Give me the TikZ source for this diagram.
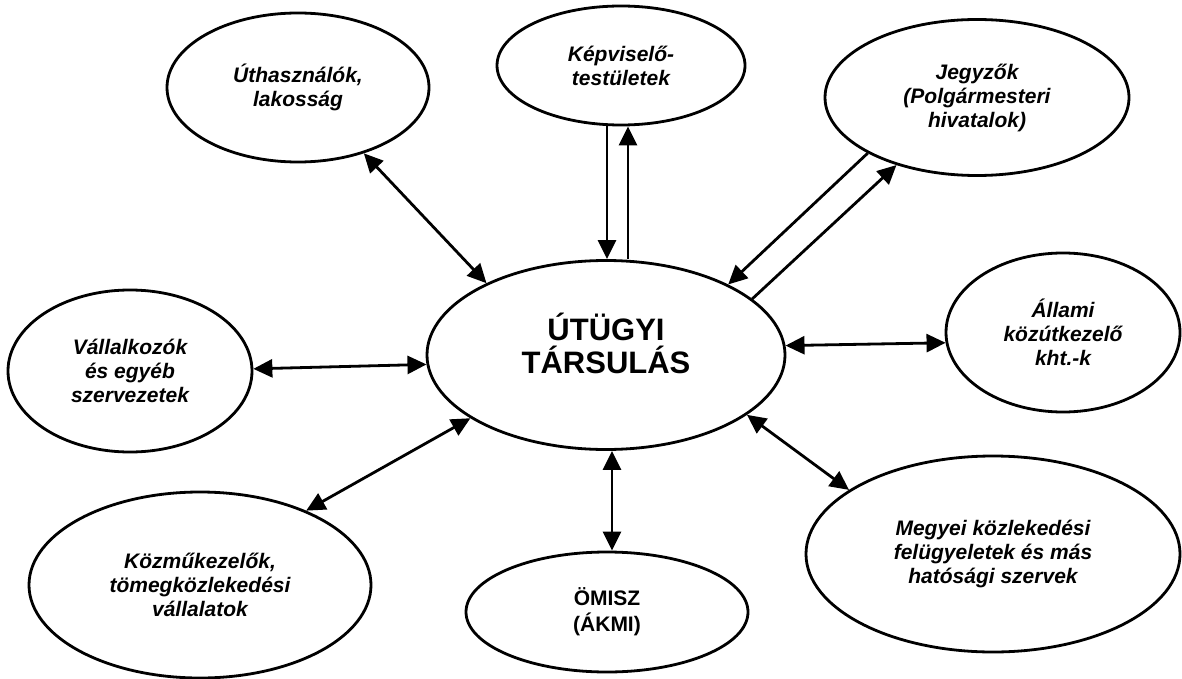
\documentclass[tikz,border=0pt]{standalone}
\usepackage{fontspec}
\setmainfont{Liberation Sans}
\usetikzlibrary{shapes.geometric,arrows.meta}
\begin{document}
\begin{tikzpicture}[x=1pt,y=-1pt,
  box/.style={ellipse,draw,line width=2.8pt,inner sep=0pt,align=center,
    font=\fontsize{21pt}{24pt}\selectfont\bfseries\itshape},
  one/.style={line width=2.8pt,-{Triangle[length=19pt,width=18pt]}},
  both/.style={line width=2.8pt,{Triangle[length=19pt,width=18pt]}-{Triangle[length=19pt,width=18pt]}}]
\useasboundingbox (0,0) rectangle (1182,679);
% nodes
\node[box,minimum width=262pt,minimum height=149pt] (U) at (298,87.5) {Úthasználók,\\lakosság};
\node[box,minimum width=248pt,minimum height=119pt] (K) at (621,65.5) {Képviselő-\\testületek};
\node[box,minimum width=304pt,minimum height=156pt] (J) at (977,97.5) {Jegyzők\\(Polgármesteri\\hivatalok)};
\node[box,minimum width=244pt,minimum height=162pt] (V) at (130,371) {Vállalkozók\\és egyéb\\szervezetek};
\node[box,minimum width=358pt,minimum height=189pt] (C) at (606,355) {};
\node[align=center,font=\fontsize{31pt}{33pt}\selectfont\bfseries] (Ct) at (606,343) {ÚTÜGYI\\TÁRSULÁS};
\node[box,minimum width=234pt,minimum height=159pt] (A) at (1063,332.5) {Állami\\közútkezelő\\kht.-k};
\node[box,minimum width=342pt,minimum height=186pt] (Z) at (200,585) {Közműkezelők,\\tömegközlekedési\\vállalatok};
\node[box,minimum width=282pt,minimum height=120pt,font=\fontsize{21pt}{26pt}\selectfont\bfseries] (O) at (607,612) {ÖMISZ\\(ÁKMI)};
\node[box,minimum width=374pt,minimum height=196pt] (M) at (993,554) {Megyei közlekedési\\felügyeletek és más\\hatósági szervek};
% connectors
\draw[both] (U.-45) -- (C.149);
\draw[one] ([xshift=-14pt]K.south) -- ([xshift=1pt]C.north);
\draw[one] ([xshift=22pt]C.north) -- ([xshift=7pt]K.south);
\draw[one] (J.207.6) -- (C.30.5);
\draw[one] (C.21.9) -- (J.220.3);
\draw[both] (V.1.9) -- (C.183.9);
\draw[both] (C.3.8) -- (A.185.2);
\draw[both] (Z.35) -- (C.205.9);
\draw[both] ([xshift=6pt]C.south) -- ([xshift=5pt]O.north);
\draw[both] (C.-23.6) -- (M.156.2);
\end{tikzpicture}
\end{document}
